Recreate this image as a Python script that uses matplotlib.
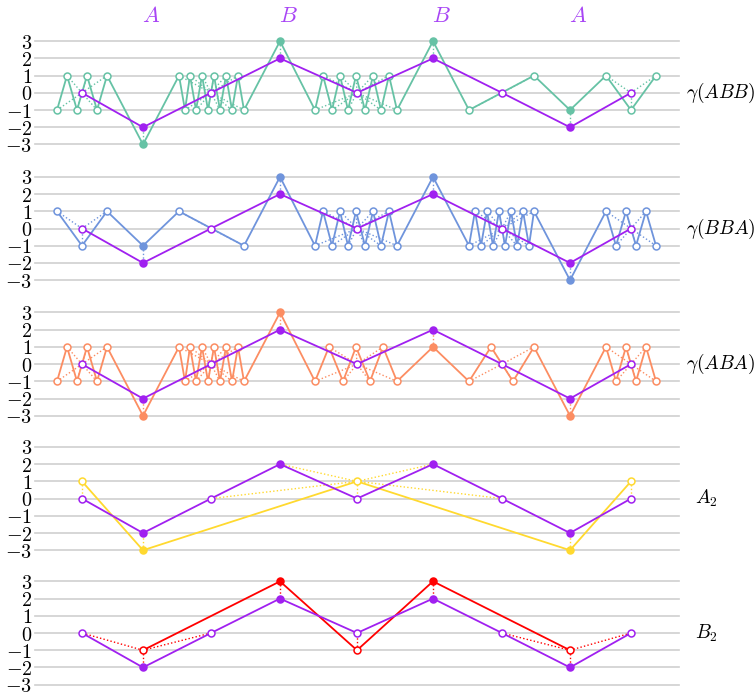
import matplotlib
matplotlib.use("Agg")
import matplotlib.pyplot as plt
import numpy as np

plt.rcParams['mathtext.fontset'] = 'cm'
plt.rcParams['font.family'] = ['DejaVu Serif']

# ---------------- data ----------------
# reference (purple) curve
t_ref = [82, 143, 211, 280, 357, 433, 502, 570, 631]
v_ref = [0, -2, 0, 2, 0, 2, 0, -2, 0]
ref_filled = [143, 280, 433, 570]
word = ["A", "B", "B", "A"]

# gamma(ABB)
t_abb = [57, 67, 77, 87, 97, 107, 143,
         179, 185, 190, 196, 202, 208, 214, 220, 226, 232, 238, 244, 280,
         315, 323, 332, 340, 348, 356, 365, 373, 381, 389, 397, 433,
         469, 534, 570, 606, 631, 656]
v_abb = [-1, 1, -1, 1, -1, 1, -3,
         1, -1, 1, -1, 1, -1, 1, -1, 1, -1, 1, -1, 3,
         -1, 1, -1, 1, -1, 1, -1, 1, -1, 1, -1, 3,
         -1, 1, -1, 1, -1, 1]

# gamma(BBA)
t_bba = [57, 82, 107, 143, 179, 244, 280,
         315, 323, 332, 340, 348, 356, 365, 373, 381, 389, 397, 433,
         469, 475, 481, 487, 493, 499, 505, 511, 517, 523, 529, 534, 570,
         606, 616, 626, 636, 646, 656]
v_bba = [1, -1, 1, -1, 1, -1, 3,
         -1, 1, -1, 1, -1, 1, -1, 1, -1, 1, -1, 3,
         -1, 1, -1, 1, -1, 1, -1, 1, -1, 1, -1, 1, -3,
         1, -1, 1, -1, 1, -1]

# gamma(ABA)
t_aba = [57, 67, 77, 87, 97, 107, 143,
         179, 185, 190, 196, 202, 208, 214, 220, 226, 232, 238, 244, 280,
         315, 329, 343, 356, 370, 383, 397, 433,
         469, 491, 513, 534, 570,
         606, 616, 626, 636, 646, 656]
v_aba = [-1, 1, -1, 1, -1, 1, -3,
         1, -1, 1, -1, 1, -1, 1, -1, 1, -1, 1, -1, 3,
         -1, 1, -1, 1, -1, 1, -1, 1,
         -1, 1, -1, 1, -3,
         1, -1, 1, -1, 1, -1]
gamma_filled = [143, 280, 433, 570]

# A_2
t_a2 = [82, 143, 357, 570, 631]
v_a2 = [1, -3, 1, -3, 1]
a2_filled = [143, 570]
a2_links = {82: [82], 143: [143], 357: [211, 280, 357, 433, 502], 570: [570], 631: [631]}

# B_2
t_b2 = [143, 280, 357, 433, 570]
v_b2 = [-1, 3, -1, 3, -1]
b2_filled = [280, 433]
b2_links = {143: [82, 143, 211], 280: [280], 357: [357], 433: [433], 570: [502, 570, 631]}

row_labels = [r"$\gamma(ABB)$", r"$\gamma(BBA)$", r"$\gamma(ABA)$", r"$A_2$", r"$B_2$"]
yticks = [3, 2, 1, 0, -1, -2, -3]

PURPLE = '#a020f0'
GREEN = '#66c2a5'
BLUE = '#6f94dc'
ORANGE = '#fc8d62'
YELLOW = '#ffd92f'
RED = '#ff0000'

# ---------------- helpers ----------------
ref_map = dict(zip(t_ref, v_ref))
ref_open = [t for t in t_ref if t not in ref_filled]


def gamma_links(ts):
    links = {}
    for t in ts:
        if t in ref_filled:
            links[t] = [t]
        else:
            links[t] = [min(ref_open, key=lambda r: abs(r - t))]
    return links


def draw_markers(ax, ts, vs, filled, color, z):
    for t, v in zip(ts, vs):
        if t in filled:
            ax.plot(t, v, 'o', ms=5, color=color, mec=color, mew=1.1, zorder=z, clip_on=False)
        else:
            ax.plot(t, v, 'o', ms=5, color='white', mec=color, mew=1.1, zorder=z, clip_on=False)


def draw_panel(ax, ts, vs, filled, links, color, label, label_x):
    ax.set_xlim(35, 679)
    ax.set_ylim(-3, 3)
    ax.set_yticks(yticks)
    ax.set_yticklabels([r'$%d$' % v for v in yticks], fontsize=14.5)
    for lab in ax.get_yticklabels():
        lab.set_verticalalignment('center_baseline')
    ax.set_xticks([])
    ax.tick_params(axis='y', length=0, pad=2)
    for s in ax.spines.values():
        s.set_visible(False)
    for y in yticks:
        ax.axhline(y, color='#cfcfcf', lw=1.2, zorder=0, clip_on=False)
    vmap = dict(zip(ts, vs))
    # dotted correspondences
    for t, targets in links.items():
        for r in targets:
            ax.plot([t, r], [vmap[t], ref_map[r]], ls=(0, (1, 1.6)), lw=1.0,
                    color=color, zorder=1, clip_on=False)
    ax.plot(ts, vs, '-', color=color, lw=1.3, zorder=2, clip_on=False)
    ax.plot(t_ref, v_ref, '-', color=PURPLE, lw=1.3, zorder=4, clip_on=False)
    draw_markers(ax, ts, vs, filled, color, 3)
    draw_markers(ax, t_ref, v_ref, ref_filled, PURPLE, 5)
    ax.text(label_x, 0.5, label, transform=ax.transAxes, ha='left', va='center', fontsize=14)


fig = plt.figure(figsize=(7.55, 6.93), dpi=100)
bottoms = [0.7915, 0.5957, 0.4000, 0.2060, 0.0120]
axes = [fig.add_axes([35 / 755, b, 644 / 755, 0.1491]) for b in bottoms]

draw_panel(axes[0], t_abb, v_abb, gamma_filled, gamma_links(t_abb), GREEN, row_labels[0], 1.011)
draw_panel(axes[1], t_bba, v_bba, gamma_filled, gamma_links(t_bba), BLUE, row_labels[1], 1.011)
draw_panel(axes[2], t_aba, v_aba, gamma_filled, gamma_links(t_aba), ORANGE, row_labels[2], 1.011)
draw_panel(axes[3], t_a2, v_a2, a2_filled, a2_links, YELLOW, row_labels[3], 1.025)
draw_panel(axes[4], t_b2, v_b2, b2_filled, b2_links, RED, row_labels[4], 1.025)

for t, w in zip(ref_filled, word):
    axes[0].annotate(r'$%s$' % w, xy=(t, 4.45), xytext=(6, 0), textcoords='offset points',
                     ha='center', va='center', fontsize=16, color='#a845f5',
                     annotation_clip=False)

fig.savefig('out.png', dpi=100)
